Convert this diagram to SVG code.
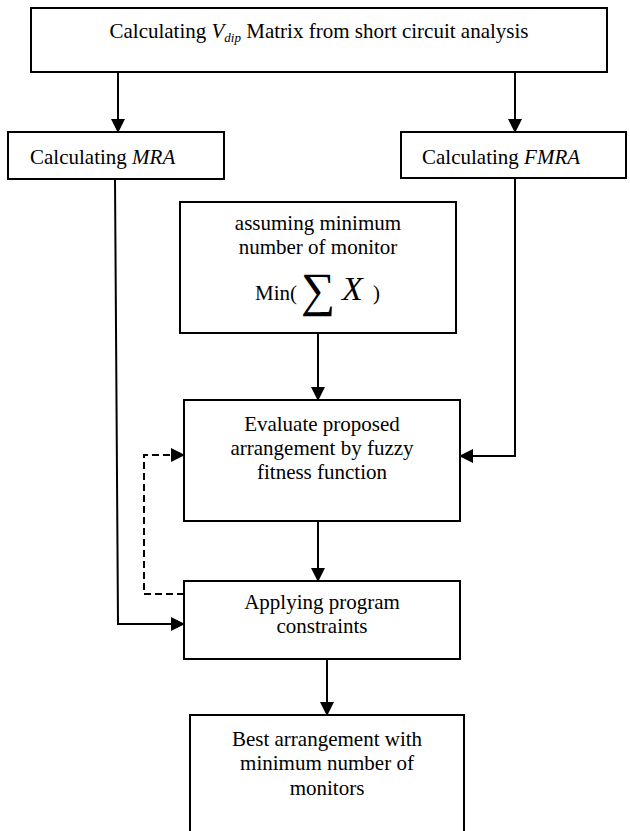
<svg xmlns="http://www.w3.org/2000/svg" width="630" height="831" viewBox="0 0 630 831">
  <style>
    .box { fill: #ffffff; stroke: #000000; stroke-width: 2; }
    .t { font-family: "Liberation Serif", "Times New Roman", serif; font-size: 21px; fill: #000000; }
    .c { text-anchor: middle; }
    .it { font-style: italic; }
    .sub { font-style: italic; font-size: 13px; }
    .sum { font-size: 48px; }
    .bigx { font-style: italic; font-size: 34px; }
    .link { fill: none; stroke: #000000; stroke-width: 2; }
    .dash { stroke-dasharray: 7 4; }
  </style>
  <defs>
    <marker id="arrow" viewBox="0 0 14 14" refX="13" refY="7" markerWidth="14" markerHeight="14" markerUnits="userSpaceOnUse" orient="auto">
      <path d="M0,0 L14,7 L0,14 Z" fill="#000000"/>
    </marker>
  </defs>

  <rect width="630" height="831" fill="#ffffff"/>

  <!-- connectors -->
  <g id="connectors">
    <line class="link" x1="118" y1="72" x2="118" y2="132" marker-end="url(#arrow)"/>
    <line class="link" x1="515" y1="72" x2="515" y2="132" marker-end="url(#arrow)"/>
    <path class="link" d="M115,179 L118,624 L184,624" marker-end="url(#arrow)"/>
    <path class="link" d="M515,178 L515,456 L460,456" marker-end="url(#arrow)"/>
    <line class="link" x1="318" y1="333" x2="318" y2="400" marker-end="url(#arrow)"/>
    <line class="link" x1="318" y1="521" x2="318" y2="581" marker-end="url(#arrow)"/>
    <path class="link dash" d="M184,594 L144,594 L144,455 L184,455" marker-end="url(#arrow)"/>
    <line class="link" x1="327" y1="659" x2="327" y2="715" marker-end="url(#arrow)"/>
  </g>

  <!-- short circuit analysis -->
  <g id="node-vdip">
    <rect class="box" x="31" y="8" width="576" height="64"/>
    <text class="t c" x="319" y="38">Calculating <tspan class="it">V</tspan><tspan class="sub" dy="4">dip</tspan><tspan dy="-4"> Matrix from short circuit analysis</tspan></text>
  </g>

  <g id="node-mra">
    <rect class="box" x="8" y="132" width="216" height="47"/>
    <text class="t" x="30" y="164">Calculating <tspan class="it">MRA</tspan></text>
  </g>

  <g id="node-fmra">
    <rect class="box" x="401" y="132" width="225" height="46"/>
    <text class="t" x="422" y="164">Calculating <tspan class="it">FMRA</tspan></text>
  </g>

  <g id="node-assume">
    <rect class="box" x="180" y="202" width="276" height="131"/>
    <text class="t c" x="318" y="230">assuming minimum</text>
    <text class="t c" x="318" y="254">number of monitor</text>
    <text class="t" x="255" y="300">Min(</text>
    <text class="t sum" x="301" y="306">∑</text>
    <text class="t bigx" x="342" y="300">X</text>
    <text class="t" x="373" y="300">)</text>
  </g>

  <g id="node-evaluate">
    <rect class="box" x="184" y="400" width="276" height="121"/>
    <text class="t c" x="322" y="431">Evaluate proposed</text>
    <text class="t c" x="322" y="455">arrangement by fuzzy</text>
    <text class="t c" x="322" y="479">fitness function</text>
  </g>

  <g id="node-constraints">
    <rect class="box" x="184" y="581" width="276" height="78"/>
    <text class="t c" x="322" y="609">Applying program</text>
    <text class="t c" x="322" y="633">constraints</text>
  </g>

  <g id="node-best">
    <rect class="box" x="190" y="715" width="274" height="140"/>
    <text class="t c" x="327" y="746">Best arrangement with</text>
    <text class="t c" x="327" y="770">minimum number of</text>
    <text class="t c" x="327" y="795">monitors</text>
  </g>
</svg>
